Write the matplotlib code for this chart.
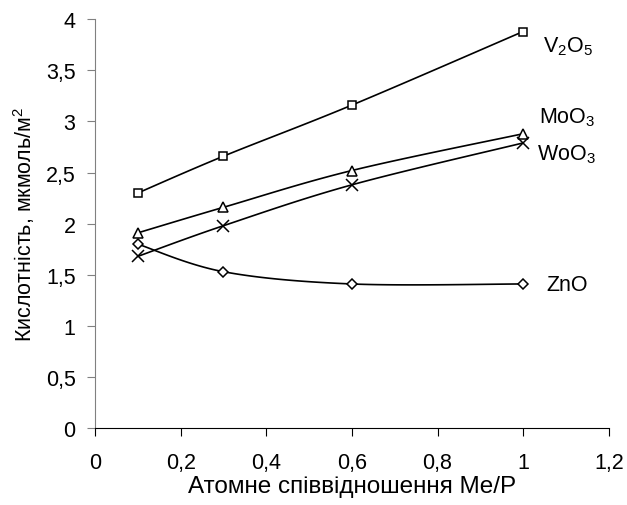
import numpy as np
import matplotlib
matplotlib.use("Agg")
import matplotlib.pyplot as plt
from matplotlib.ticker import FuncFormatter, MultipleLocator

plt.rcParams['font.family'] = ['Liberation Sans', 'DejaVu Sans']
plt.rcParams['mathtext.fontset'] = 'custom'
plt.rcParams['mathtext.rm'] = 'Liberation Sans'
plt.rcParams['mathtext.it'] = 'Liberation Sans'
plt.rcParams['mathtext.default'] = 'regular'

x = [0.1, 0.3, 0.6, 1.0]
v2o5 = [2.30, 2.66, 3.16, 3.88]
moo3 = [1.91, 2.16, 2.52, 2.88]
woo3 = [1.68, 1.98, 2.38, 2.79]
zno = [1.80, 1.53, 1.41, 1.41]

labels = ["V$_2$O$_5$", "MoO$_3$", "WoO$_3$", "ZnO"]
markers = ['s', '^', 'x', 'D']


def smooth(xs, ys, n=40):
    """Bezier smoothing through points (spreadsheet-style smoothed line)."""
    P = np.column_stack([xs, ys]).astype(float)
    m = len(P)
    out = []
    for i in range(m - 1):
        p0 = P[i]
        p3 = P[i + 1]
        prev = P[i - 1] if i > 0 else P[i]
        nxt = P[i + 2] if i + 2 < m else P[i + 1]
        c1 = p0 + (p3 - prev) / 6.0
        c2 = p3 - (nxt - p0) / 6.0
        t = np.linspace(0, 1, n)[:, None]
        seg = ((1 - t) ** 3) * p0 + 3 * ((1 - t) ** 2) * t * c1 + 3 * (1 - t) * t ** 2 * c2 + t ** 3 * p3
        out.append(seg if i == 0 else seg[1:])
    s = np.vstack(out)
    return s[:, 0], s[:, 1]


fig = plt.figure(figsize=(6.27, 5.06), dpi=100)
ax = fig.add_axes([0.1515, 0.152, 0.8195, 0.808])

sizes = {'s': 6, '^': 6.5, 'x': 8, 'D': 5}
for ys, mk in zip([v2o5, moo3, woo3, zno], markers):
    sx, sy = smooth(x, ys)
    ax.plot(sx, sy, color='black', lw=1.2, zorder=2)
    ax.plot(x, ys, linestyle='none', marker=mk, ms=sizes[mk],
            mfc='white', mec='black', mew=1.1, color='black', zorder=3)

ax.set_xlim(0, 1.2)
ax.set_ylim(0, 4)
ax.xaxis.set_major_locator(MultipleLocator(0.2))
ax.yaxis.set_major_locator(MultipleLocator(0.5))
fmt = FuncFormatter(lambda v, p: ('%g' % round(v, 2)).replace('.', ','))
ax.xaxis.set_major_formatter(fmt)
ax.yaxis.set_major_formatter(fmt)

for s in ['top', 'right']:
    ax.spines[s].set_visible(False)
ax.spines['left'].set_color('#808080')
ax.spines['bottom'].set_color('black')
ax.tick_params(axis='y', direction='out', length=6, colors='#808080', labelcolor='black',
               labelsize=15.5, pad=8)
ax.tick_params(axis='x', direction='out', length=6, colors='black', labelsize=15.5, pad=11)

ax.set_xlabel('Атомне співвідношення Me/P', fontsize=17.5, labelpad=2)
ax.set_ylabel('Кислотність, мкмоль/м$^2$', fontsize=15.5, labelpad=6)

pos = [(1.047, 3.74), (1.037, 3.05), (1.033, 2.68), (1.054, 1.40)]
for (tx, ty), lab in zip(pos, labels):
    ax.text(tx, ty, lab, fontsize=15.5, ha='left', va='center')

fig.savefig('out.png', dpi=100)
